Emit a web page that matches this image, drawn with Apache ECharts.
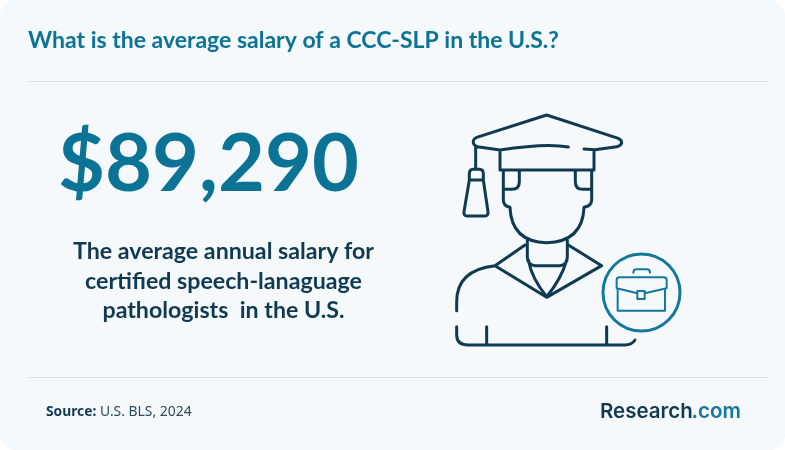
<!DOCTYPE html>
<html><head><meta charset="utf-8">
<script src="https://cdn.jsdelivr.net/npm/echarts@6/dist/echarts.min.js"></script>
<style>html,body{margin:0;padding:0;background:#fff}#c{width:785px;height:450px}</style>
</head><body><div id="c"></div>
<script>
const titleText = "What is the average salary of a CCC-SLP in the U.S.?";
const salaryValue = [89290];
const descriptionLines = ["The average annual salary for", "certified speech-lanaguage", "pathologists  in the U.S."];
const sourceLabel = "Source:";
const sourceText = "U.S. BLS, 2024";
const brandParts = ["Research", ".com"];

const dark = "#0f3a52", teal = "#0b7395", ring = "#13799c";
const fmt = v => "$" + v.toLocaleString("en-US");

const personD = "M385 141Q320 128 180 150L112 140Q98 135 100 122Q102 115 110 112L320 45L535 115Q546 120 545 130Q542 138 530 140L465 149L432 147" +
 "M180 150V210H462V150M107 140V208M88 240V222Q88 208 100 208H118Q130 208 130 222V240Z" +
 "M88 240L72 335Q70 348 82 348H132Q146 348 144 335L130 240" +
 "M190 212V300Q190 318 210 322Q214 425 320 428Q428 425 432 322Q455 318 455 300V212" +
 "M190 268H215Q238 268 238 245V212M452 268H428Q406 268 406 245V212" +
 "M262 420V470Q262 495 285 497H360Q382 495 382 470V420" +
 "M255 435L165 497L320 592L485 497L385 435" +
 "M265 480Q275 535 320 590Q365 535 380 480" +
 "M165 497Q50 510 50 605V632M50 680V705Q50 735 85 735H555Q575 735 585 720M140 680V735M500 680V735";
const caseD = "M580 518Q580 508 590 508H620Q630 508 630 518" +
 "M592 580L530 565V540Q530 532 538 532H672Q680 532 680 540V565L614 580" +
 "M533 570V632H675V570M592 573H614V597H592Z";
echarts.graphic.registerShape("person", echarts.graphic.extendPath(personD, {}));
echarts.graphic.registerShape("briefcase", echarts.graphic.extendPath(caseD, {}));

const sans = "Lato";
const elements = [
 {type:"rect", shape:{x:0,y:0,width:785,height:450,r:16}, style:{fill:"#f5f9fb"}},
 {type:"text", x:28, y:41, style:{text:titleText, fill:teal, font:"bold 23px "+sans, textVerticalAlign:"middle"}},
 {type:"line", shape:{x1:28,y1:81.5,x2:768,y2:81.5}, style:{stroke:"#dde2e4", lineWidth:1}},
 {type:"line", shape:{x1:28,y1:377.5,x2:768,y2:377.5}, style:{stroke:"#dde2e4", lineWidth:1}},
 {type:"text", x:208.5, y:165, style:{text:fmt(salaryValue[0]), fill:teal, font:"bold 81px "+sans, textAlign:"center", textVerticalAlign:"middle"}},
 ...descriptionLines.map((t,i)=>({type:"text", x:223.5, y:252+i*29.5, style:{text:t, fill:dark, font:"bold 23.2px "+sans, textAlign:"center", textVerticalAlign:"middle"}})),
 {type:"text", x:46, y:412.5, style:{text:sourceLabel, fill:dark, font:"bold 13.8px 'Noto Sans'", textVerticalAlign:"middle"}},
 {type:"text", x:100, y:412.5, style:{text:sourceText, fill:"#2a4a5e", font:"13.9px 'Noto Sans'", textVerticalAlign:"middle"}},
 {type:"text", x:600, y:411.5, style:{text:brandParts[0], fill:dark, font:"600 20.5px Inter", textVerticalAlign:"middle"}},
 {type:"text", x:691.5, y:411.5, style:{text:brandParts[1], fill:ring, font:"600 20.5px Inter", textVerticalAlign:"middle"}},
 {type:"person", x:440, y:100, scaleX:1/3, scaleY:1/3, style:{fill:null, stroke:dark, lineWidth:9, lineCap:"round", lineJoin:"round"}},
 {type:"circle", shape:{cx:641.5,cy:292.5,r:38.5}, style:{fill:"#f5f9fb", stroke:ring, lineWidth:3}},
 {type:"briefcase", x:440, y:100, scaleX:1/3, scaleY:1/3, style:{fill:null, stroke:ring, lineWidth:6, lineCap:"round", lineJoin:"round"}}
];
const chart = echarts.init(document.getElementById("c"), null, {renderer:"canvas"});
chart.setOption({animation:false, backgroundColor:"#fff", graphic:{elements}});
</script></body></html>
